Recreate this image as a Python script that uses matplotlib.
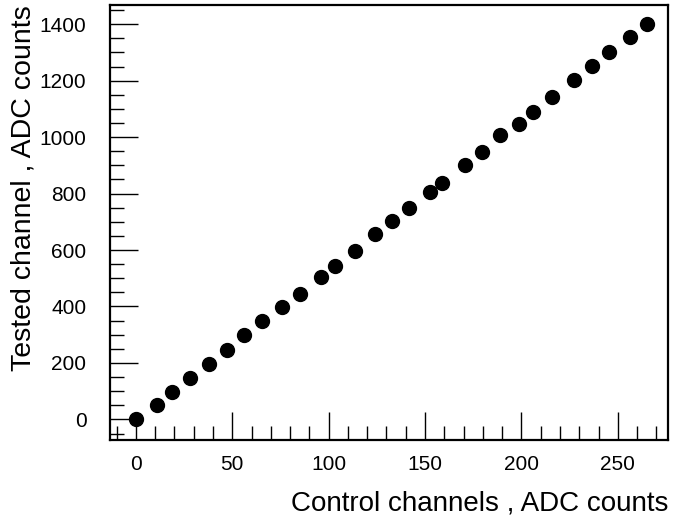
import matplotlib
matplotlib.use("Agg")
import matplotlib.pyplot as plt
from matplotlib.ticker import MultipleLocator

plt.rcParams['font.family'] = ['Liberation Sans', 'DejaVu Sans']

# control channel vs tested channel (ADC counts)
control = [0, 11.2, 19.0, 28.2, 37.9, 47.3, 56.3, 65.5, 75.7, 85.0,
           95.8, 103.4, 113.6, 124.0, 132.8, 141.9, 152.4, 159.0, 170.6, 179.3,
           189.0, 198.7, 206.1, 216.0, 227.0, 236.6, 245.6, 256.4, 265.2]
tested = [0, 52, 96, 145, 195, 245, 298, 349, 397, 445,
          504, 542, 598, 658, 704, 750, 806, 839, 902, 948,
          1008, 1047, 1089, 1141, 1204, 1252, 1300, 1356, 1400]

fig = plt.figure(figsize=(6.73, 5.24), dpi=100)
ax = fig.add_axes([110/673, 84/524, 558/673, 435/524])

ax.plot(control, tested, 'o', color='black', markersize=10, linestyle='none')

ax.set_xlim(-13.4, 276)
ax.set_ylim(-73, 1468)

ax.xaxis.set_major_locator(MultipleLocator(50))
ax.xaxis.set_minor_locator(MultipleLocator(10))
ax.yaxis.set_major_locator(MultipleLocator(200))
ax.yaxis.set_minor_locator(MultipleLocator(50))

ax.tick_params(which='both', direction='in', top=False, right=False,
               width=1, color='black', labelsize=15)
ax.tick_params(which='major', length=20)
ax.tick_params(which='minor', length=10)
ax.tick_params(axis='x', pad=11)
ax.tick_params(axis='y', pad=17)

for s in ax.spines.values():
    s.set_linewidth(1.6)

ax.set_xlabel("Control channels , ADC counts", fontsize=20, loc='right', labelpad=12)
ax.set_ylabel("Tested channel , ADC counts", fontsize=20.5, loc='top', labelpad=2)

fig.savefig("out.png", dpi=100)
